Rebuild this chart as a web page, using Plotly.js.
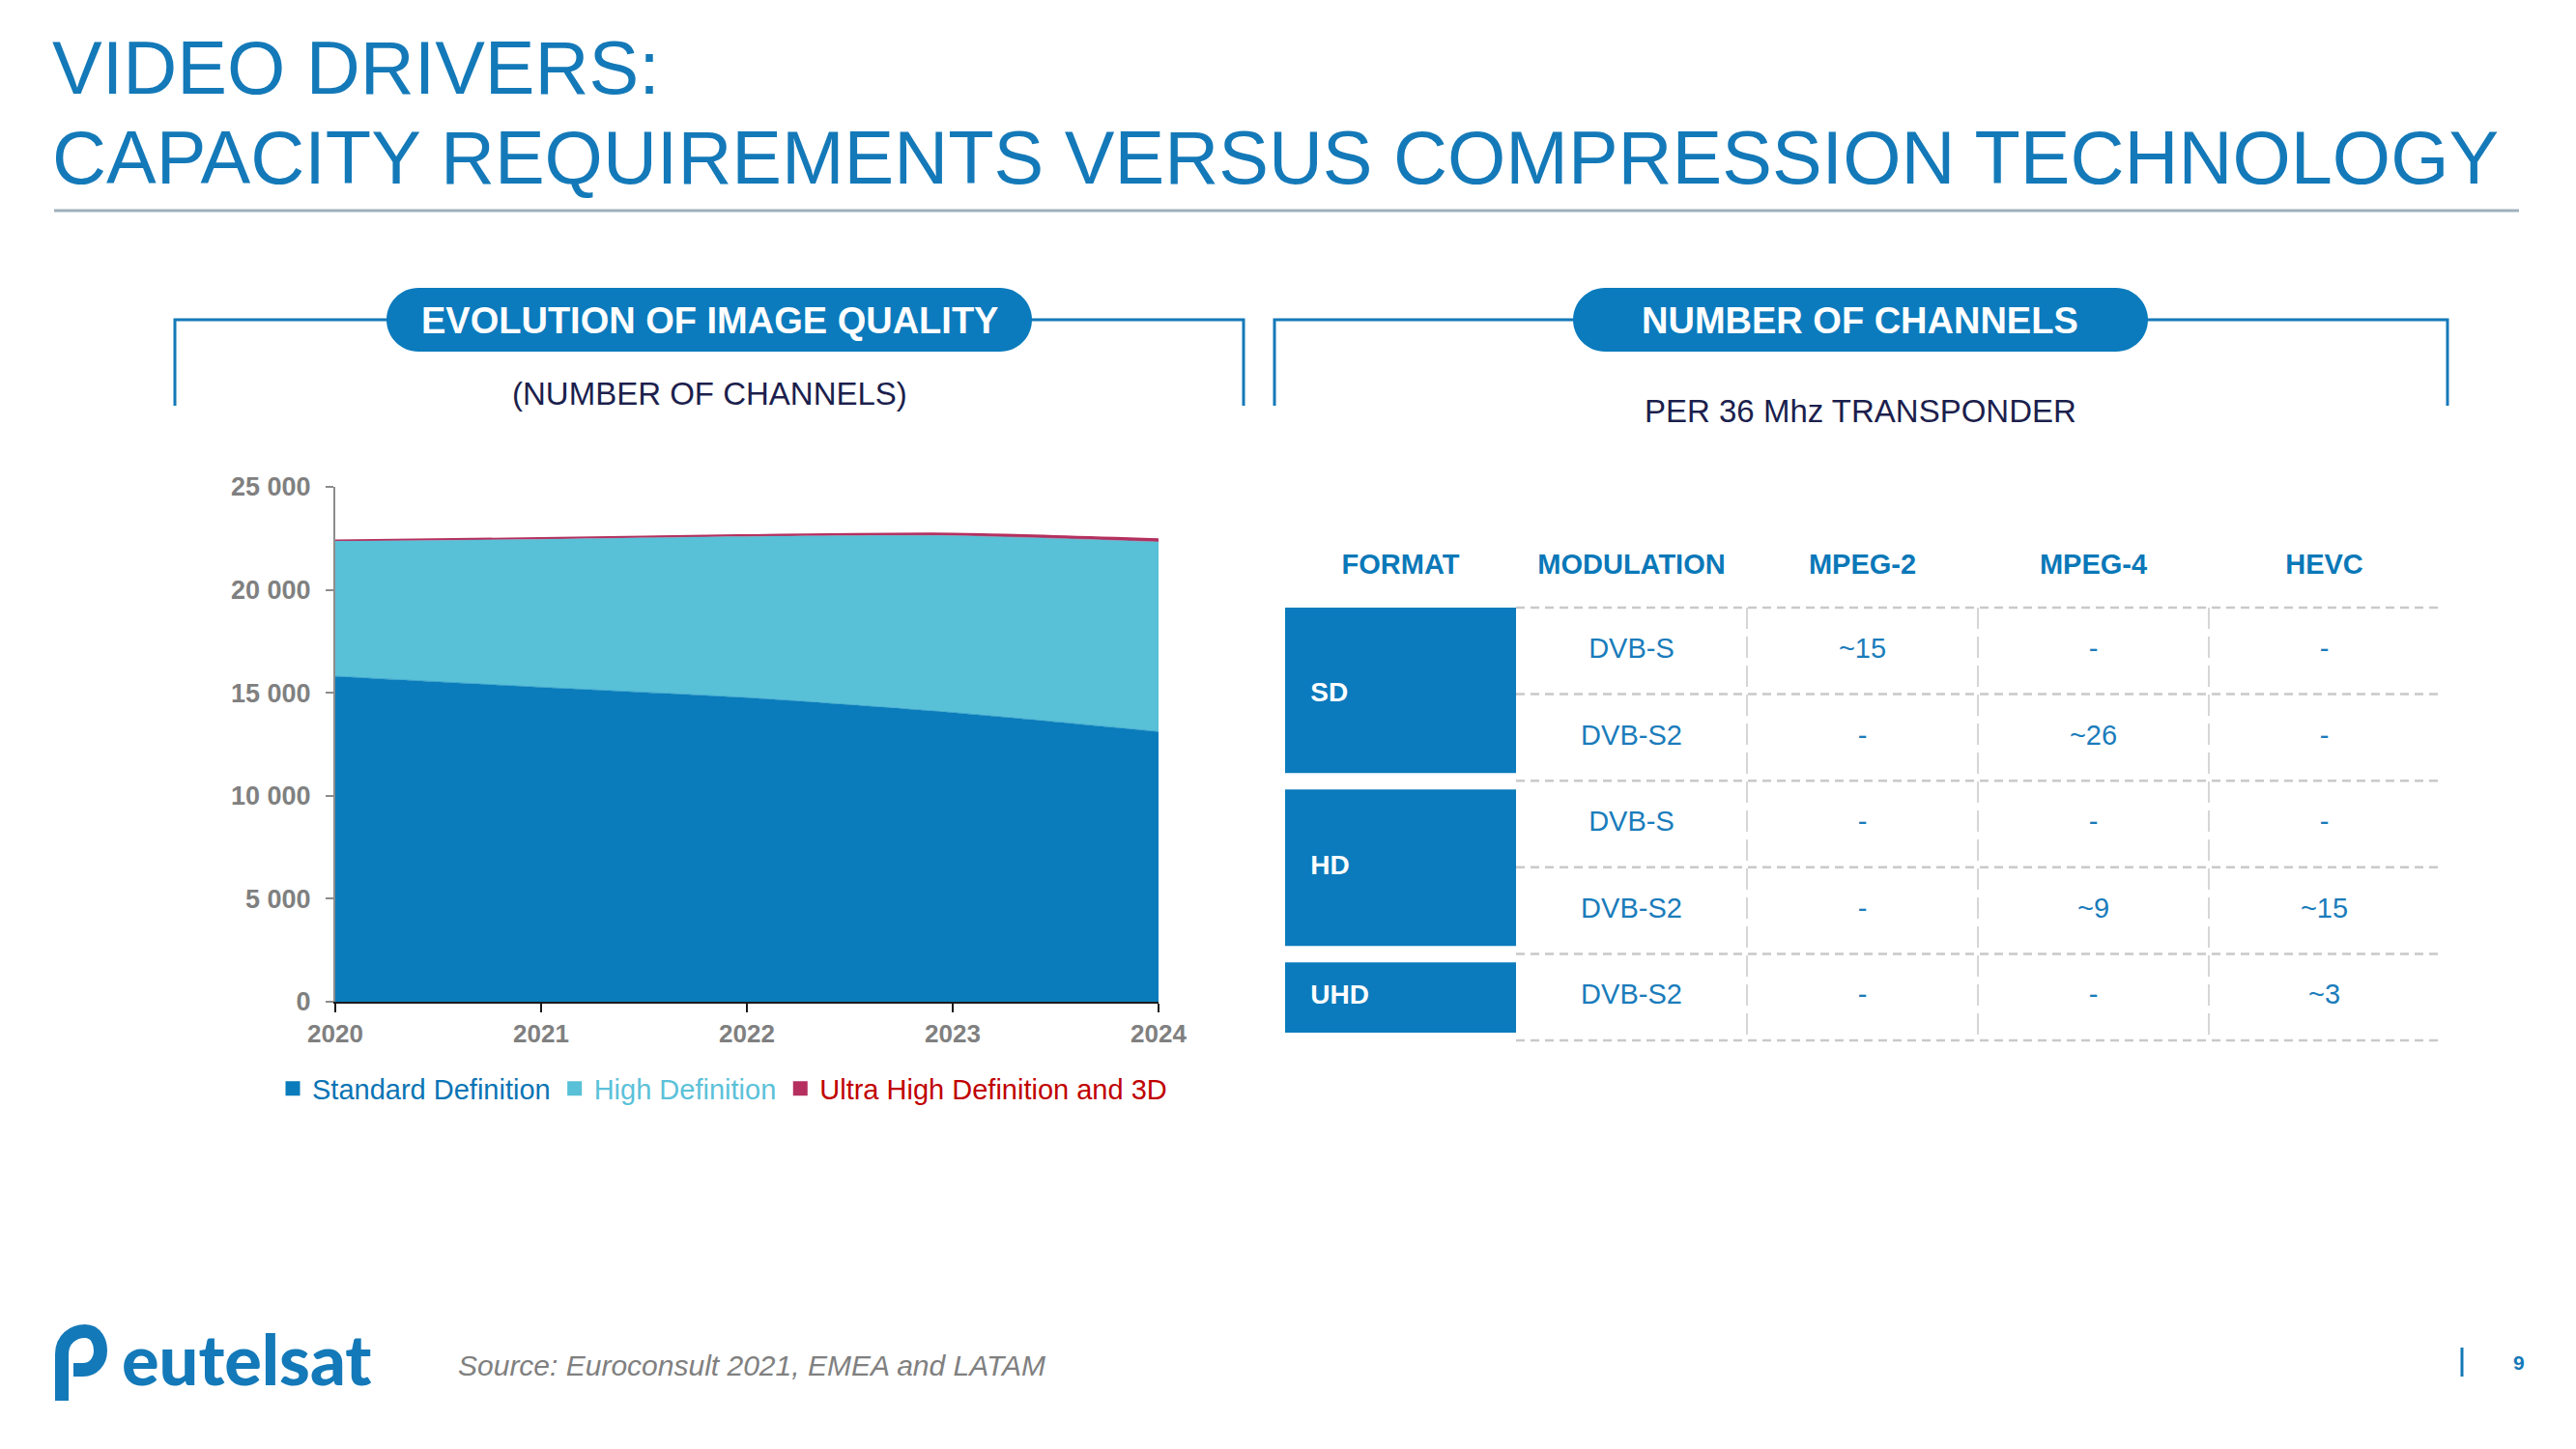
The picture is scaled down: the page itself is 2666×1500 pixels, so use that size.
<!DOCTYPE html>
<html><head><meta charset="utf-8">
<script src="https://cdn.plot.ly/plotly-3.0.1.min.js"></script>
<style>
html,body{margin:0;padding:0;background:#fff;}
#chart{width:2666px;height:1500px;}
</style></head><body><div id="chart"></div>
<script>
const W = 2666, H = 1500;
const FONT = "'Liberation Sans', Arial, sans-serif";

// ---- chart data ----
const years = [2020, 2021, 2022, 2023, 2024];
const sdChannels  = [15800, 15270, 14760, 14040, 13110];
const hdChannels  = [6570, 7190, 7830, 8590, 9220];
const uhdChannels = [40, 60, 80, 110, 140];
const seriesNames = ['Standard Definition', 'High Definition', 'Ultra High Definition and 3D'];
const seriesColors = ['#0a7cbb', '#58c0d7', '#b5305f'];
const legendTextColors = ['#0a74b4', '#5bc1d9', '#c00000'];
const yTickVals = [0, 5000, 10000, 15000, 20000, 25000];

// ---- table data ----
const tableHeaders = ['FORMAT', 'MODULATION', 'MPEG-2', 'MPEG-4', 'HEVC'];
const formats = ['SD', 'HD', 'UHD'];
const formatRowSpans = [2, 2, 1];
const modulations = ['DVB-S', 'DVB-S2', 'DVB-S', 'DVB-S2', 'DVB-S2'];
const mpeg2 = ['~15', '-', '-', '-', '-'];
const mpeg4 = ['-', '~26', '-', '~9', '-'];
const hevc  = ['-', '-', '-', '~15', '~3'];

// ---- texts ----
const titleLines = ['VIDEO DRIVERS:', 'CAPACITY REQUIREMENTS VERSUS COMPRESSION TECHNOLOGY'];
const leftPanelTitle = 'EVOLUTION OF IMAGE QUALITY';
const leftPanelSub = '(NUMBER OF CHANNELS)';
const rightPanelTitle = 'NUMBER OF CHANNELS';
const rightPanelSub = 'PER 36 Mhz TRANSPONDER';
const sourceText = 'Source: Euroconsult 2021, EMEA and LATAM';
const logoText = 'eutelsat';
const pageNumber = '9';

const BLUE = '#1479b8';
const px = x => x / W;
const py = y => 1 - y / H;
function pathPx(cmds) {
  return cmds.map(c => {
    if (c.length === 1) return c[0];
    const pts = [];
    for (let i = 1; i < c.length; i += 2) pts.push(px(c[i]).toFixed(6) + ',' + py(c[i + 1]).toFixed(6));
    return c[0] + ' ' + pts.join(' ');
  }).join(' ');
}
function pill(x0, x1, y0, y1) {
  const r = (y1 - y0) / 2, k = 0.5523 * r, ym = (y0 + y1) / 2;
  return pathPx([
    ['M', x0 + r, y0], ['L', x1 - r, y0],
    ['C', x1 - r + k, y0, x1, ym - k, x1, ym],
    ['C', x1, ym + k, x1 - r + k, y1, x1 - r, y1],
    ['L', x0 + r, y1],
    ['C', x0 + r - k, y1, x0, ym + k, x0, ym],
    ['C', x0, ym - k, x0 + r - k, y0, x0 + r, y0], ['Z']
  ]);
}

const traces = [];
const stacks = [sdChannels, hdChannels, uhdChannels];
stacks.forEach((vals, i) => {
  traces.push({
    type: 'scatter', x: years, y: vals, stackgroup: 'one', mode: 'lines',
    line: {color: seriesColors[i], width: i === 2 ? 1.6 : 0.5, shape: 'spline', smoothing: 0.7},
    fillcolor: seriesColors[i], showlegend: false, hoverinfo: 'skip', name: seriesNames[i]
  });
});
seriesNames.forEach((n, i) => {
  traces.push({
    type: 'scatter', x: [null], y: [null], mode: 'markers',
    marker: {symbol: 'square', size: 15, color: seriesColors[i]},
    name: '<span style="color:' + legendTextColors[i] + '">' + n + '</span>',
    showlegend: true, hoverinfo: 'skip'
  });
});

// table cells
const cellCols = [modulations, mpeg2, mpeg4, hevc];
const cx = [], cy = [], ct = [];
cellCols.forEach((col, c) => col.forEach((t, r) => { cx.push(c + 1.5); cy.push(r + 0.5); ct.push(t); }));
traces.push({
  type: 'scatter', xaxis: 'x2', yaxis: 'y2', mode: 'text', x: cx, y: cy, text: ct,
  textposition: 'middle center', textfont: {family: FONT, size: 29, color: '#1a7cbb'},
  showlegend: false, hoverinfo: 'skip'
});
traces.push({
  type: 'scatter', xaxis: 'x2', yaxis: 'y2', mode: 'text',
  x: tableHeaders.map((h, i) => i + 0.5), y: tableHeaders.map(() => -0.47), text: tableHeaders,
  textposition: 'middle center', textfont: {family: FONT, size: 29, color: '#0a78b8', weight: 'bold'},
  showlegend: false, hoverinfo: 'skip'
});
const fStart = [];
formatRowSpans.reduce((acc, s) => { fStart.push(acc); return acc + s; }, 0);
traces.push({
  type: 'scatter', xaxis: 'x2', yaxis: 'y2', mode: 'text',
  x: formats.map(() => 0.11), y: formats.map((f, i) => fStart[i] + formatRowSpans[i] / 2), text: formats,
  textposition: 'middle right', textfont: {family: FONT, size: 28, color: '#ffffff', weight: 'bold'},
  showlegend: false, hoverinfo: 'skip'
});

const shapes = [];
shapes.push({type: 'line', xref: 'paper', yref: 'paper', x0: px(56), x1: px(2607), y0: py(218), y1: py(218), line: {color: '#9fb0bc', width: 3}});
shapes.push({type: 'path', xref: 'paper', yref: 'paper', path: pathPx([['M', 181, 420], ['L', 181, 331], ['L', 1287, 331], ['L', 1287, 420]]), line: {color: BLUE, width: 3}});
shapes.push({type: 'path', xref: 'paper', yref: 'paper', path: pathPx([['M', 1319, 420], ['L', 1319, 331], ['L', 2533, 331], ['L', 2533, 420]]), line: {color: BLUE, width: 3}});
shapes.push({type: 'path', xref: 'paper', yref: 'paper', path: pill(400, 1068, 298, 364), fillcolor: '#0b7bbd', line: {width: 0}});
shapes.push({type: 'path', xref: 'paper', yref: 'paper', path: pill(1628, 2223, 298, 364), fillcolor: '#0b7bbd', line: {width: 0}});
formats.forEach((f, i) => {
  const s = fStart[i];
  shapes.push({type: 'rect', xref: 'x2', yref: 'y2', x0: 0, x1: 1, y0: s + (s > 0 ? 0.1 : 0), y1: s + formatRowSpans[i] - 0.09, fillcolor: '#0b7bbd', line: {width: 0}, layer: 'below'});
});
for (let r = 0; r <= modulations.length; r++) {
  shapes.push({type: 'line', xref: 'x2', yref: 'y2', x0: 1, x1: 5, y0: r, y1: r, line: {color: '#c9c9c9', width: 2.5, dash: '9px,6px'}, layer: 'below'});
}
for (let c = 2; c <= 4; c++) {
  shapes.push({type: 'line', xref: 'x2', yref: 'y2', x0: c, x1: c, y0: 0, y1: modulations.length, line: {color: '#c9c9c9', width: 1.5, dash: '22px,8px'}, layer: 'below'});
}
// logo icon
shapes.push({type: 'path', xref: 'paper', yref: 'paper', line: {color: BLUE, width: 14},
  path: pathPx([['M', 64, 1450], ['L', 64, 1402], ['C', 64, 1386, 76, 1378, 88, 1378], ['C', 100, 1378, 104, 1390, 104, 1398], ['C', 104, 1410, 96, 1418, 86, 1418], ['L', 76, 1418]])});
shapes.push({type: 'line', xref: 'paper', yref: 'paper', x0: px(2548), x1: px(2548), y0: py(1395), y1: py(1425), line: {color: BLUE, width: 3}});

const ann = (text, x, y, opts) => Object.assign({text, x: px(x), y: py(y), xref: 'paper', yref: 'paper', showarrow: false, xanchor: 'center', yanchor: 'middle'}, opts);
const annotations = [
  ann(titleLines[0], 52, 70, {xanchor: 'left', font: {family: FONT, size: 77.5, color: BLUE}}),
  ann(titleLines[1], 52, 163, {xanchor: 'left', font: {family: FONT, size: 77.5, color: BLUE}}),
  ann(leftPanelTitle, 734, 332, {font: {family: FONT, size: 38, color: '#ffffff', weight: 'bold'}}),
  ann(rightPanelTitle, 1925, 332, {font: {family: FONT, size: 38, color: '#ffffff', weight: 'bold'}}),
  ann(leftPanelSub, 734, 407, {font: {family: FONT, size: 33, color: '#1c1f4d'}}),
  ann(rightPanelSub, 1925, 425, {font: {family: FONT, size: 33, color: '#1c1f4d'}}),
  ann(sourceText, 472, 1413, {xanchor: 'left', font: {family: FONT, size: 30, color: '#808080', style: 'italic'}}),
  ann(logoText, 124, 1406, {xanchor: 'left', font: {family: 'Lato, sans-serif', size: 72, color: BLUE, weight: 900}}),
  ann(pageNumber, 2607, 1410, {font: {family: FONT, size: 21, color: BLUE, weight: 'bold'}})
];

const layout = {
  width: W, height: H, margin: {l: 0, r: 0, t: 0, b: 0},
  paper_bgcolor: '#ffffff', plot_bgcolor: 'rgba(0,0,0,0)',
  font: {family: FONT, color: '#808080'},
  separators: '. ',
  showlegend: true,
  legend: {orientation: 'h', x: px(283), xanchor: 'left', y: py(1127), yanchor: 'middle',
           font: {family: FONT, size: 29}, itemwidth: 30, bgcolor: 'rgba(0,0,0,0)', traceorder: 'normal'},
  xaxis: {domain: [px(347), px(1199)], range: [2020, 2024], tickvals: years, ticktext: years.map(String),
          showgrid: false, zeroline: false, showline: true, linecolor: '#1a1a1a', linewidth: 2,
          ticks: 'outside', ticklen: 9, tickwidth: 2, tickcolor: '#1a1a1a',
          tickfont: {family: FONT, size: 26, color: '#808080', weight: 'bold'}, fixedrange: true},
  yaxis: {domain: [py(1037), py(504)], range: [0, 25000], tickvals: yTickVals, tickformat: ',d',
          showgrid: false, zeroline: false, showline: true, linecolor: '#8c8c8c', linewidth: 2,
          ticks: 'outside', ticklen: 8, tickwidth: 2, tickcolor: '#8c8c8c', ticklabelstandoff: 10,
          tickfont: {family: FONT, size: 27, color: '#808080', weight: 'bold'}, fixedrange: true},
  xaxis2: {domain: [px(1330), px(2525)], range: [0, 5], visible: false, anchor: 'y2', fixedrange: true},
  yaxis2: {domain: [py(1094.92), py(557.32)], range: [5.2, -0.8], visible: false, anchor: 'x2', fixedrange: true},
  shapes, annotations
};

Plotly.newPlot('chart', traces, layout, {displayModeBar: false, staticPlot: true});
</script></body></html>
